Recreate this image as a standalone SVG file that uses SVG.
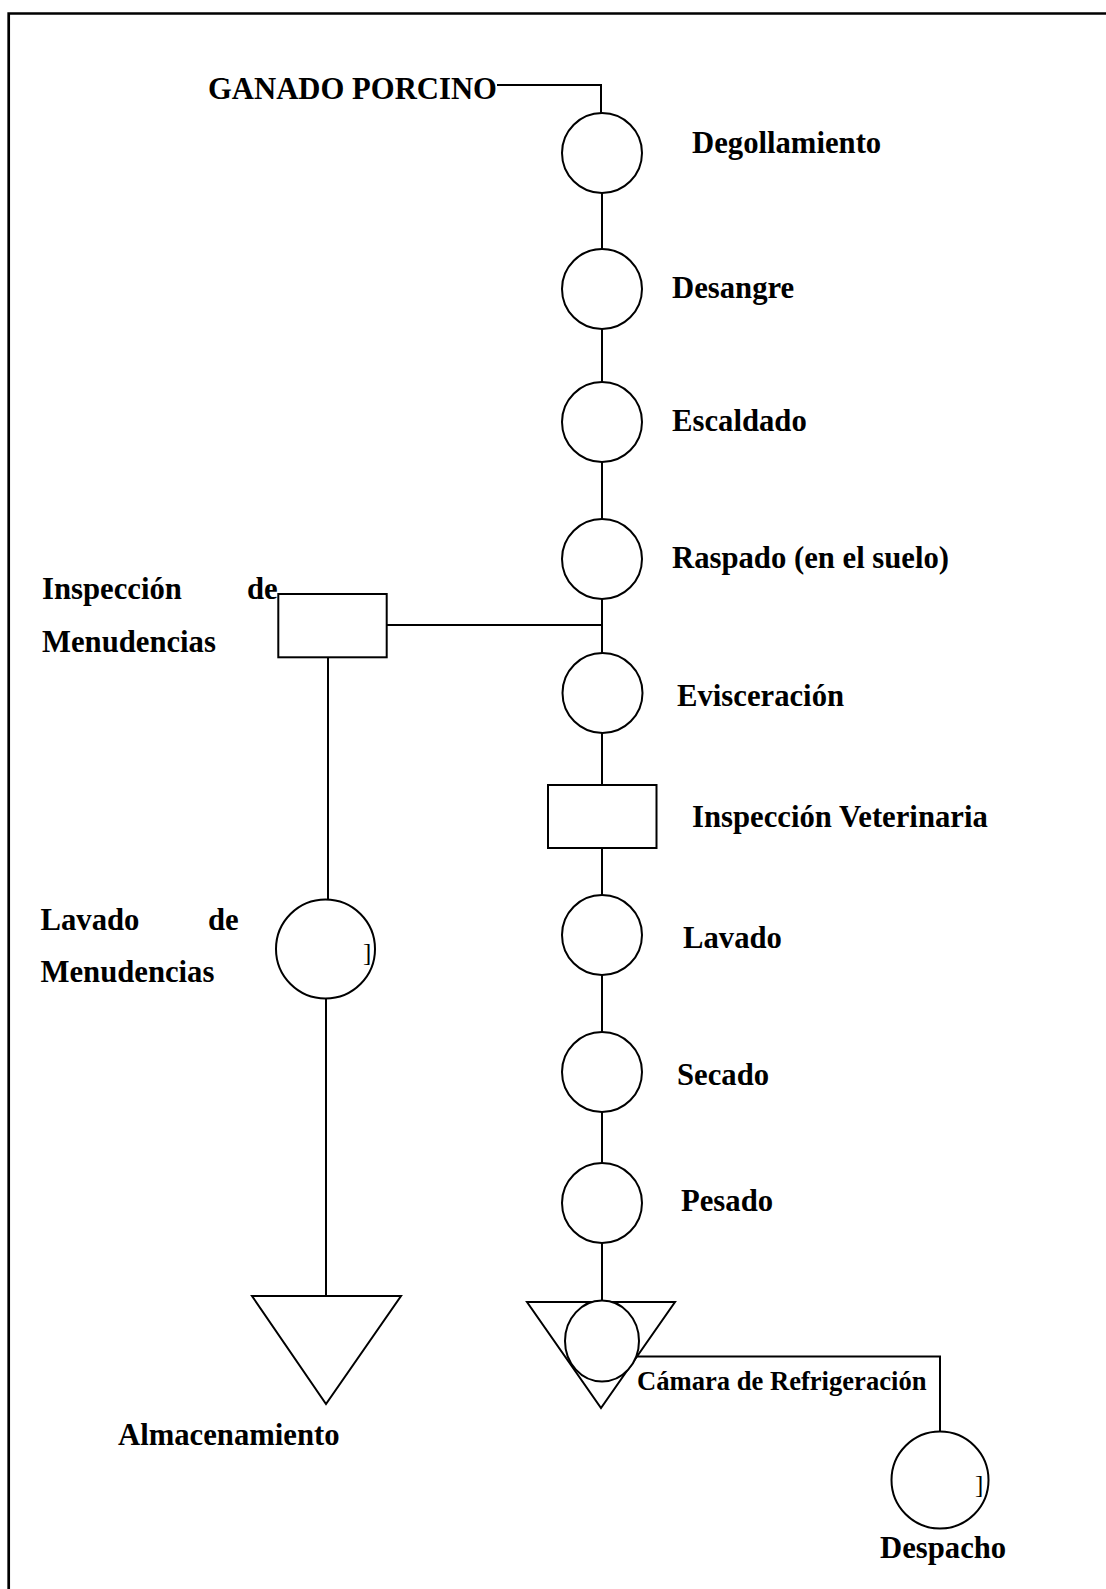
<svg xmlns="http://www.w3.org/2000/svg" width="1106" height="1589" viewBox="0 0 1106 1589">
<style>
.s{fill:#fff;stroke:#000;stroke-width:2}
.c{fill:none;stroke:#000;stroke-width:2}
.t{font-family:"Liberation Serif","Times New Roman",serif;font-weight:bold;font-size:30.7px;fill:#000}
.ts{font-family:"Liberation Serif","Times New Roman",serif;font-weight:bold;font-size:26.6px;fill:#000}
.m{font-family:"Liberation Serif","Times New Roman",serif;font-size:25px;fill:#000}
</style>
<rect width="1106" height="1589" fill="#fff"/>
<path d="M8.7 1589V13.5H1106" fill="none" stroke="#000" stroke-width="2.7"/>
<g id="connectors">
<path class="c" d="M497 85H601V113"/>
<path class="c" d="M602 193V249"/>
<path class="c" d="M602 329V382"/>
<path class="c" d="M602 462V519"/>
<path class="c" d="M602 599V653"/>
<path class="c" d="M387 625H602"/>
<path class="c" d="M602 733V785"/>
<path class="c" d="M602 848V895"/>
<path class="c" d="M602 975V1032"/>
<path class="c" d="M602 1112V1163"/>
<path class="c" d="M602 1243V1301"/>
<path class="c" d="M328 657V900"/>
<path class="c" d="M326 998V1296"/>
<path class="c" d="M637 1356.5H940V1432"/>
</g>
<g id="ganado"><text class="t" x="208" y="99">GANADO PORCINO</text></g>
<g id="degollamiento"><circle class="s" cx="602" cy="153" r="40"/><text class="t" x="692" y="153">Degollamiento</text></g>
<g id="desangre"><circle class="s" cx="602" cy="289" r="40"/><text class="t" x="672" y="298">Desangre</text></g>
<g id="escaldado"><circle class="s" cx="602" cy="422" r="40"/><text class="t" x="672" y="431">Escaldado</text></g>
<g id="raspado"><circle class="s" cx="602" cy="559" r="40"/><text class="t" x="672" y="568">Raspado (en el suelo)</text></g>
<g id="evisceracion"><circle class="s" cx="602.5" cy="693" r="40"/><text class="t" x="677" y="706">Evisceración</text></g>
<g id="inspeccion-veterinaria"><rect class="s" x="548" y="785" width="108.5" height="63"/><text class="t" x="692" y="827">Inspección Veterinaria</text></g>
<g id="lavado"><circle class="s" cx="602" cy="935" r="40"/><text class="t" x="683" y="948">Lavado</text></g>
<g id="secado"><circle class="s" cx="602" cy="1072" r="40"/><text class="t" x="677" y="1085">Secado</text></g>
<g id="pesado"><circle class="s" cx="602" cy="1203" r="40"/><text class="t" x="681" y="1211">Pesado</text></g>
<g id="camara"><polygon class="s" points="527,1302 675,1302 601,1408"/><ellipse class="s" cx="602" cy="1341" rx="37" ry="40.5"/><text class="ts" x="637" y="1390">Cámara de Refrigeración</text></g>
<g id="despacho"><circle class="s" cx="940" cy="1480" r="48.5"/><text class="m" x="975" y="1493">]</text><text class="t" x="880" y="1558">Despacho</text></g>
<g id="inspeccion-menudencias"><rect class="s" x="278.3" y="594" width="108.4" height="63.3"/><text class="t" x="42" y="599">Inspección</text><text class="t" x="247" y="599">de</text><text class="t" x="42" y="652">Menudencias</text></g>
<g id="lavado-menudencias"><circle class="s" cx="325.5" cy="949" r="49.5"/><text class="m" x="363" y="961">]</text><text class="t" x="40.5" y="930">Lavado</text><text class="t" x="208" y="930">de</text><text class="t" x="40.5" y="982">Menudencias</text></g>
<g id="almacenamiento"><polygon class="s" points="252,1296 401,1296 326,1404"/><text class="t" x="118" y="1445">Almacenamiento</text></g>
</svg>
